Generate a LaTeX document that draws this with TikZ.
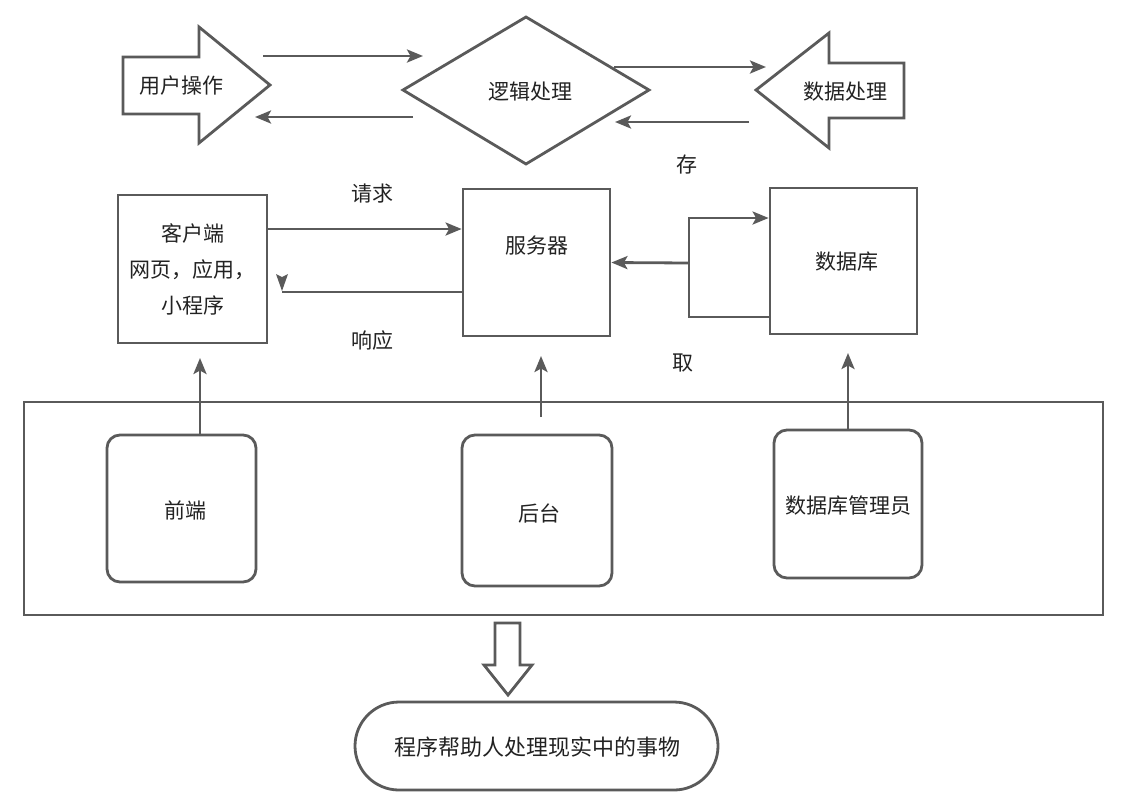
\documentclass[tikz,border=0pt]{standalone}
\usepackage{fontspec}
\newfontfamily\cjk{Noto Sans CJK SC}
\usetikzlibrary{arrows.meta}
\definecolor{ln}{HTML}{5A5A5A}
\definecolor{tx}{HTML}{222222}
\tikzset{
  line/.style={draw=ln, line width=2.8pt, line join=miter},
  arr/.style={line, -{Stealth[length=16pt,width=13pt,inset=3.5pt]}},
  lbl/.style={font=\cjk\fontsize{21}{36}\selectfont, text=tx, inner sep=0pt, align=center},
  sqbox/.style={line, fill=white, inner sep=0pt},
  rbox/.style={line, fill=white, inner sep=0pt, rounded corners=13pt},
  blockarrow/.style={line, fill=white},
}
\begin{document}
\begin{tikzpicture}[x=1pt,y=-1pt]
\fill[white] (0,0) rectangle (1123,804);
\useasboundingbox (0,0) rectangle (1123,804);

% ---- top row: block arrows and diamond
\draw[blockarrow] (123,57) -- (199,57) -- (199,27) -- (270,85) -- (199,143) -- (199,114) -- (123,114) -- cycle;
\node[lbl] (user) at (181.5,86) {用户操作};
\draw[blockarrow] (904,63) -- (829,63) -- (829,33) -- (756,90) -- (829,148) -- (829,118) -- (904,118) -- cycle;
\node[lbl] (data) at (845.5,92) {数据处理};
\draw[blockarrow] (526,17) -- (649,90) -- (526,164) -- (403,90) -- cycle;
\node[lbl] (logic) at (530,92) {逻辑处理};

\coordinate (a1s) at (263,56);  \coordinate (a1e) at (423,56);
\coordinate (a2s) at (413,117); \coordinate (a2e) at (255,117);
\coordinate (a3s) at (614,67);  \coordinate (a3e) at (766,67);
\coordinate (a4s) at (749,122); \coordinate (a4e) at (615,122);
\draw[arr] (a1s) -- (a1e);
\draw[arr] (a2s) -- (a2e);
\draw[arr] (a3s) -- (a3e);
\draw[arr] (a4s) -- (a4e);

% ---- middle row
\node[sqbox, lbl, minimum width=149pt, minimum height=148pt] (cl) at (192.5,269) {客户端\\网页，应用，\\小程序};
\node[sqbox, minimum width=147pt, minimum height=147pt] (srv) at (536.5,262.5) {};
\node[lbl] at (537,246) {服务器};
\node[sqbox, minimum width=147pt, minimum height=146pt] (db) at (843.5,261) {};
\node[lbl] at (847,262) {数据库};

\node[lbl] (req) at (372,194) {请求};
\node[lbl] (resp) at (372,340) {响应};
\node[lbl] (cun) at (687,165) {存};
\node[lbl] (qu) at (683,363) {取};

\draw[arr] ([yshift=40pt]cl.east) -- ([yshift=40pt]cl.east -| srv.west);
\coordinate (rp) at (282,292);
\draw[line] ([yshift=-29.5pt]srv.west) -- (rp);
\fill[ln] (276,274) -- (282,277) -- (288,274) -- (282,291) -- cycle;

\coordinate (jn) at (689,263);
\draw[arr] ([yshift=-56pt]db.west) -| (jn) |- ([yshift=43pt]db.west);
\draw[arr] (jn) -- (srv.east);

% ---- bottom group
\draw[line] (24,402) rectangle (1103,615);
\node[rbox, minimum width=149pt, minimum height=147pt] (fe) at (181.5,508.5) {};
\node[lbl] at (185,510) {前端};
\node[rbox, minimum width=150pt, minimum height=151pt] (be) at (537,510.5) {};
\node[lbl] at (539,513) {后台};
\node[rbox, minimum width=148pt, minimum height=148pt] (dba) at (848,504) {};
\node[lbl] at (848,506) {数据库管理员};

\coordinate (fes) at (200,435);  \coordinate (fee) at (200,358);
\coordinate (bes) at (541,417);  \coordinate (bee) at (541,356);
\coordinate (dbe) at (848,353);
\draw[arr] (fes) -- (fee);
\draw[arr] (bes) -- (bee);
\draw[arr] (dba.north) -- (dbe);

% ---- down block arrow and terminator
\draw[blockarrow] (495,623) -- (520,623) -- (520,665) -- (532,665) -- (508,695) -- (484,665) -- (495,665) -- cycle;
\node[line, fill=white, minimum width=363pt, minimum height=88pt, rounded corners=44pt, inner sep=0pt] (res) at (536.5,746) {};
\node[lbl, font=\cjk\fontsize{22}{26}\selectfont] at (537,747) {程序帮助人处理现实中的事物};
\end{tikzpicture}
\end{document}
